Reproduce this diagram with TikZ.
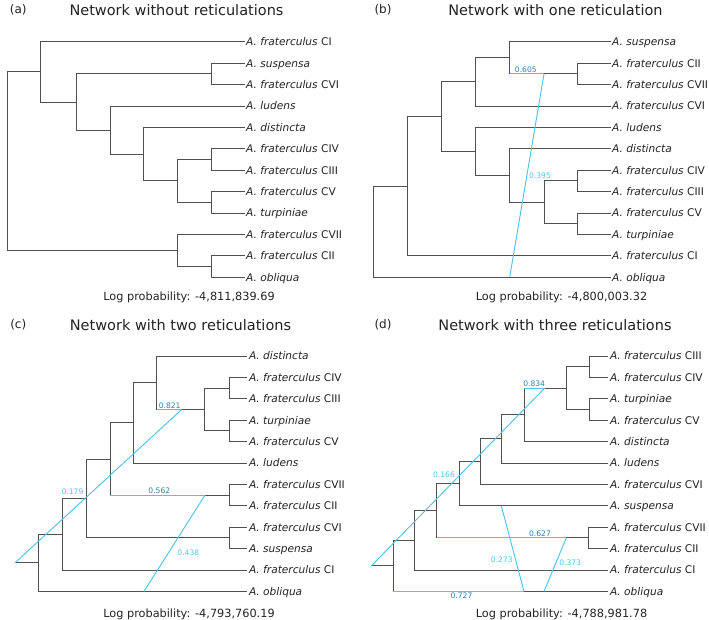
\documentclass[tikz,border=0pt]{standalone}
\usepackage{fontspec}
\setmainfont{DejaVu Sans}
\usepackage{tikz}
\usetikzlibrary{calc}
\usepackage{xcolor}
\definecolor{TreeGray}{HTML}{505050}
\definecolor{RetCyan}{HTML}{4EC4EC}
\definecolor{LabBlue}{HTML}{2F7DAA}
\definecolor{Ink}{HTML}{222222}
\newcommand{\spc}[1]{\textit{A. #1}}

\begin{document}
\begin{tikzpicture}[x=1pt,y=-1pt,
  tree/.style={draw=TreeGray,line width=0.95pt},
  ret/.style={draw=RetCyan,line width=0.95pt},
  leaf/.style={anchor=west,inner sep=1.5pt,text=Ink,font=\fontsize{10.6}{12}\selectfont,text height=7.7pt,text depth=0pt},
  ttl/.style={anchor=base,inner sep=0pt,text=Ink,font=\fontsize{14.5}{17}\selectfont},
  tag/.style={anchor=base,inner sep=0pt,text=Ink,font=\fontsize{12}{14}\selectfont},
  logp/.style={anchor=base,inner sep=0pt,text=Ink,font=\fontsize{11.3}{13}\selectfont},
  majlab/.style={anchor=south,inner sep=1pt,text=LabBlue,font=\fontsize{7.6}{9}\selectfont},
  minlab/.style={inner sep=0pt,text=RetCyan,font=\fontsize{7.6}{9}\selectfont}]
  \useasboundingbox (0,0) rectangle (709,620);

  % (a) network without reticulations
  \node[tag] (aTag) at (18.3,13.3) {(a)};
  \node[ttl] (aTtl) at (176.5,16) {Network without reticulations};
  \foreach \nm/\txt [count=\i from 0] in {CI/\spc{fraterculus} CI, Sus/\spc{suspensa},
      CVI/\spc{fraterculus} CVI, Lud/\spc{ludens}, Dis/\spc{distincta},
      CIV/\spc{fraterculus} CIV, CIII/\spc{fraterculus} CIII, CV/\spc{fraterculus} CV,
      Tur/\spc{turpiniae}, CVII/\spc{fraterculus} CVII, CII/\spc{fraterculus} CII, Obl/\spc{obliqua}}
    \node[leaf] (a\nm) at (244.5,{41.8+21.4*\i}) {\txt};
  \coordinate (aR) at (7.3,161.2);
  \coordinate (aA) at (40.7,71.9);
  \coordinate (aB) at (76,102);
  \coordinate (aC) at (211.7,73.9);
  \coordinate (aD) at (110,130.1);
  \coordinate (aE) at (143.3,154.2);
  \coordinate (aF) at (177.3,180.9);
  \coordinate (aG) at (211.7,159.5);
  \coordinate (aH) at (211.7,202.3);
  \coordinate (aI) at (177.3,250.5);
  \coordinate (aJ) at (211.7,266.5);
  \foreach \p/\c in {R/A,R/I,A/CI,A/B,B/C,B/D,C/Sus,C/CVI,D/Lud,D/E,E/Dis,E/F,
      F/G,F/H,G/CIV,G/CIII,H/CV,H/Tur,I/CVII,I/J,J/CII,J/Obl}
    \draw[tree] (a\p) |- (a\c);
  \node[logp] (aLog) at (189,300) {Log probability: -4,811,839.69};

  % (b) network with one reticulation
  \node[tag] (bTag) at (383,13.3) {(b)};
  \node[ttl] (bTtl) at (555.5,15.7) {Network with one reticulation};
  \foreach \nm/\txt [count=\i from 0] in {Sus/\spc{suspensa}, CII/\spc{fraterculus} CII,
      CVII/\spc{fraterculus} CVII, CVI/\spc{fraterculus} CVI, Lud/\spc{ludens},
      Dis/\spc{distincta}, CIV/\spc{fraterculus} CIV, CIII/\spc{fraterculus} CIII,
      CV/\spc{fraterculus} CV, Tur/\spc{turpiniae}, CI/\spc{fraterculus} CI, Obl/\spc{obliqua}}
    \node[leaf] (b\nm) at (610.5,{41.8+21.4*\i}) {\txt};
  \coordinate (bR) at (373.3,231.7);
  \coordinate (bA) at (407.3,186.3);
  \coordinate (bB) at (441.3,116.7);
  \coordinate (bC) at (475.7,81.9);
  \coordinate (bE) at (509.7,57.9);
  \coordinate (bF) at (577.3,73.9);
  \coordinate (bD) at (475.7,151.5);
  \coordinate (bG) at (509.7,175.6);
  \coordinate (bH) at (544,202.3);
  \coordinate (bI) at (577.3,180.9);
  \coordinate (bJ) at (577.3,223.7);
  \foreach \p/\c in {R/A,R/Obl,A/B,A/CI,B/C,B/D,C/E,C/CVI,E/Sus,E/F,F/CII,F/CVII,
      D/Lud,D/G,G/Dis,G/H,H/I,H/J,I/CIV,I/CIII,J/CV,J/Tur}
    \draw[tree] (b\p) |- (b\c);
  \coordinate (bS) at (bG |- bObl);
  \coordinate (bT) at (bH |- bF);
  \draw[ret] (bS) -- (bT);
  \draw[ret] (bE |- bF) -- (bT);
  \node[majlab] (bL1) at (525.8,73.9) {0.605};
  \node[minlab] (bL2) at (540,175.7) {0.395};
  \node[logp] (bLog) at (561.5,300) {Log probability: -4,800,003.32};

  % (c) network with two reticulations
  \node[tag] (cTag) at (18.3,328.3) {(c)};
  \node[ttl] (cTtl) at (180.5,330.7) {Network with two reticulations};
  \foreach \nm/\txt [count=\i from 0] in {Dis/\spc{distincta}, CIV/\spc{fraterculus} CIV,
      CIII/\spc{fraterculus} CIII, Tur/\spc{turpiniae}, CV/\spc{fraterculus} CV,
      Lud/\spc{ludens}, CVII/\spc{fraterculus} CVII, CII/\spc{fraterculus} CII,
      CVI/\spc{fraterculus} CVI, Sus/\spc{suspensa}, CI/\spc{fraterculus} CI, Obl/\spc{obliqua}}
    \node[leaf] (c\nm) at (247.3,{356+21.4*\i}) {\txt};
  \coordinate (cO) at (15,562.8);
  \coordinate (cR) at (38.3,562.8);
  \coordinate (cA) at (62.7,534.2);
  \coordinate (cB) at (86.7,498.5);
  \coordinate (cC) at (110,459);
  \coordinate (cD) at (133.3,422.9);
  \coordinate (cE) at (156.7,382.8);
  \coordinate (cF) at (204.3,409.5);
  \coordinate (cG) at (229.3,388.1);
  \coordinate (cH) at (229.3,430.9);
  \coordinate (cJ) at (229.3,495.1);
  \coordinate (cK) at (229.3,537.9);
  \draw[tree] (cO) -- (cR);
  \foreach \p/\c in {R/A,R/Obl,A/B,A/CI,B/C,B/K,C/D,C/J,D/E,D/Lud,E/Dis,E/F,F/G,F/H,
      G/CIV,G/CIII,H/Tur,H/CV,J/CVII,J/CII,K/CVI,K/Sus}
    \draw[tree] (c\p) |- (c\c);
  \coordinate (cT1) at (181.7,409.5);
  \draw[ret] (cO) -- (cT1);
  \draw[ret] (cE |- cF) -- (cT1);
  \coordinate (cS2) at (144,591.4);
  \coordinate (cT2) at (205,495.1);
  \draw[ret] (cS2) -- (cT2);
  \draw[ret] (cC |- cJ) -- (cT2);
  \node[majlab] (cL1) at (169.7,409.5) {0.821};
  \node[majlab] (cL2) at (159.3,495.1) {0.562};
  \node[minlab] (cL3) at (72.5,492) {0.179};
  \node[minlab] (cL4) at (188.3,552.7) {0.438};
  \node[logp] (cLog) at (189,617.7) {Log probability: -4,793,760.19};

  % (d) network with three reticulations
  \node[tag] (dTag) at (383,328.3) {(d)};
  \node[ttl] (dTtl) at (555,330.7) {Network with three reticulations};
  \foreach \nm/\txt [count=\i from 0] in {CIII/\spc{fraterculus} CIII, CIV/\spc{fraterculus} CIV,
      Tur/\spc{turpiniae}, CV/\spc{fraterculus} CV, Dis/\spc{distincta}, Lud/\spc{ludens},
      CVI/\spc{fraterculus} CVI, Sus/\spc{suspensa}, CVII/\spc{fraterculus} CVII,
      CII/\spc{fraterculus} CII, CI/\spc{fraterculus} CI, Obl/\spc{obliqua}}
    \node[leaf] (d\nm) at (608.3,{356+21.4*\i}) {\txt};
  \coordinate (dO) at (371.3,565.9);
  \coordinate (dR) at (393.3,565.9);
  \coordinate (dA) at (414.7,540.4);
  \coordinate (dB) at (436.7,510.8);
  \coordinate (dC) at (459,483.7);
  \coordinate (dD) at (480,461.7);
  \coordinate (dE) at (501.3,438.9);
  \coordinate (dF) at (524,414.9);
  \coordinate (dG) at (566.3,388.1);
  \coordinate (dH) at (589,366.7);
  \coordinate (dI) at (589,409.5);
  \coordinate (dJ) at (588.3,537.9);
  \draw[tree] (dO) -- (dR);
  \foreach \p/\c in {R/A,R/Obl,A/B,A/CI,B/C,B/J,C/D,C/Sus,D/E,D/CVI,E/F,E/Lud,F/G,F/Dis,
      G/H,G/I,H/CIII,H/CIV,I/Tur,I/CV,J/CVII,J/CII}
    \draw[tree] (d\p) |- (d\c);
  \coordinate (dT1) at (544.7,388.1);
  \draw[ret] (dO) -- (dT1);
  \draw[ret] (dF |- dG) -- (dT1);
  \coordinate (dS2) at (544,591.4);
  \coordinate (dT2) at (dG |- dJ);
  \draw[ret] (dS2) -- (dT2);
  \draw[ret] (dB |- dJ) -- (dT2);
  \coordinate (dS3) at (dE |- dSus);
  \coordinate (dT3) at (dF |- dObl);
  \draw[ret] (dS3) -- (dT3);
  \draw[ret] (dR |- dObl) -- (dT3);
  \node[majlab] (dL1) at (534.2,388.1) {0.834};
  \node[minlab] (dL2) at (444,475) {0.166};
  \node[majlab] (dL3) at (540,537.9) {0.627};
  \node[minlab] (dL4) at (570.2,562.3) {0.373};
  \node[minlab] (dL5) at (501.8,560) {0.273};
  \node[majlab,anchor=north] (dL6) at (461.5,591.4) {0.727};
  \node[logp] (dLog) at (561.5,617.7) {Log probability: -4,788,981.78};
\end{tikzpicture}
\end{document}
